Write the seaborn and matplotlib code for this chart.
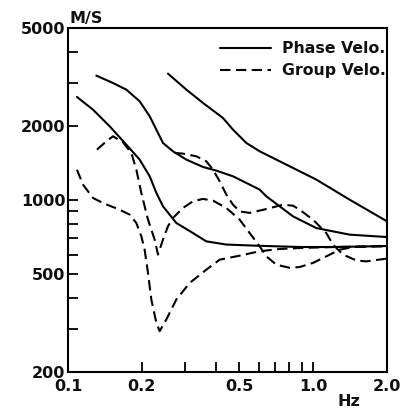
import numpy as np
import pandas as pd
import matplotlib
matplotlib.use("Agg")
import matplotlib.pyplot as plt
from matplotlib.lines import Line2D
import seaborn as sns

# ---- data (frequency Hz, velocity m/s) ----
phase1_f = [0.1088, 0.1265, 0.1479, 0.1729, 0.196, 0.2154, 0.2293, 0.244, 0.2766, 0.3234, 0.3666, 0.4423, 0.5863, 0.8806, 1.204, 2.0]
phase1_v = [2622, 2328, 1992, 1679, 1459, 1248, 1068, 943, 806, 734, 679, 659, 652, 644, 644, 650]

phase2_f = [0.1305, 0.1526, 0.1729, 0.196, 0.2154, 0.2293, 0.244, 0.268, 0.3038, 0.3553, 0.4027, 0.4709, 0.5507, 0.6049, 0.644, 0.8272, 1.03, 1.408, 2.0]
phase2_v = [3201, 2988, 2809, 2518, 2188, 1931, 1705, 1577, 1459, 1362, 1316, 1248, 1155, 1102, 1035, 858, 769, 723, 707]

phase3_f = [0.2557, 0.3038, 0.3553, 0.4286, 0.4709, 0.5337, 0.6049, 0.753, 1.03, 1.408, 2.0]
phase3_v = [3262, 2809, 2479, 2154, 1931, 1705, 1577, 1414, 1210, 1003, 819]

group1_f = [0.1088, 0.1151, 0.1265, 0.1389, 0.1624, 0.1785, 0.19, 0.1991, 0.2054, 0.212, 0.2187, 0.2293, 0.2365, 0.2518, 0.2766, 0.3135, 0.3666, 0.4155, 0.5013, 0.6049, 0.7298, 0.8806, 1.204, 2.0]
group1_v = [1328, 1155, 1019, 972, 913, 872, 806, 712, 628, 505, 394, 317, 293, 327, 394, 460, 521, 572, 594, 619, 632, 638, 644, 648]

group2_f = [0.2723, 0.2944, 0.3337, 0.3666, 0.3903, 0.4155, 0.4423, 0.4709, 0.5013, 0.5507, 0.644, 0.753, 0.8272, 0.8806, 0.998, 1.131, 1.204, 1.323, 1.499, 1.647, 2.0]
group2_v = [1553, 1543, 1505, 1436, 1328, 1191, 1052, 957, 899, 886, 919, 957, 948, 913, 832, 734, 659, 600, 568, 563, 578]

group3_f = [0.1313, 0.1434, 0.1526, 0.1676, 0.1813, 0.19, 0.1991, 0.212, 0.2257, 0.2328, 0.244, 0.2557, 0.268, 0.2944, 0.3234, 0.3553, 0.3903, 0.4423, 0.5013, 0.5507, 0.6049, 0.644, 0.7073, 0.8017, 0.8806, 0.998, 1.131, 1.282, 1.453, 2.0]
group3_v = [1602, 1732, 1815, 1715, 1553, 1328, 1068, 832, 690, 600, 690, 782, 845, 928, 988, 1010, 994, 928, 832, 734, 648, 590, 546, 530, 534, 555, 590, 628, 644, 652]

x_ticks = [0.1, 0.2, 0.5, 1.0, 2.0]
x_ticklabels = ["0.1", "0.2", "0.5", "1.0", "2.0"]
x_minor = [0.3, 0.4, 0.6, 0.7, 0.8, 0.9]
y_ticks = [200, 500, 1000, 2000, 5000]
y_ticklabels = ["200", "500", "1000", "2000", "5000"]
y_minor = [300, 400, 600, 700, 800, 900, 3000, 4000]

legend_labels = ["Phase Velo.", "Group Velo."]

# ---- plot ----
sns.set_theme(style="white")
plt.rcParams["font.family"] = ["DejaVu Sans"]

fig = plt.figure(figsize=(4.03, 4.12), dpi=100)
ax = fig.add_axes([0.1687, 0.0971, 0.7916, 0.8350])

lw = 1.5
dash = (5.0, 2.6)
curves = [
    (phase1_f, phase1_v, "solid"),
    (phase2_f, phase2_v, "solid"),
    (phase3_f, phase3_v, "solid"),
    (group1_f, group1_v, "dash"),
    (group2_f, group2_v, "dash"),
    (group3_f, group3_v, "dash"),
]
for f, v, st in curves:
    df = pd.DataFrame({"f": f, "v": v})
    sns.lineplot(data=df, x="f", y="v", ax=ax, sort=False, estimator=None,
                 color="black", linewidth=lw)
    if st == "dash":
        ax.lines[-1].set_dashes(dash)

ax.set_xscale("log")
ax.set_yscale("log")
ax.set_xlim(0.1, 2.0)
ax.set_ylim(200, 5000)

ax.set_xticks(x_ticks)
ax.set_xticklabels(x_ticklabels)
ax.set_xticks(x_minor, minor=True)
ax.set_xticklabels([], minor=True)
ax.set_yticks(y_ticks)
ax.set_yticklabels(y_ticklabels)
ax.set_yticks(y_minor, minor=True)
ax.set_yticklabels([], minor=True)

ax.tick_params(axis="both", which="both", direction="in", length=7, width=1.3,
               color="black", left=True, bottom=True, right=False, top=False)
ax.tick_params(axis="x", which="major", pad=5, labelsize=11.5)
ax.tick_params(axis="y", which="major", pad=2, labelsize=11.5)
for lab in ax.get_xticklabels() + ax.get_yticklabels():
    lab.set_fontweight("bold")
    lab.set_color("#111111")

for sp in ax.spines.values():
    sp.set_visible(True)
    sp.set_color("black")
    sp.set_linewidth(1.5)

ax.set_xlabel("")
ax.set_ylabel("")
ax.grid(False)

ax.text(0.005, 1.005, "M/S", transform=ax.transAxes, ha="left", va="bottom",
        fontsize=11.5, fontweight="bold", color="#111111")
ax.text(0.88, -0.085, "Hz", transform=ax.transAxes, ha="center", va="center",
        fontsize=11.5, fontweight="bold", color="#111111")

handles = [Line2D([], [], color="black", linewidth=lw),
           Line2D([], [], color="black", linewidth=lw, linestyle=(0, dash))]
leg = ax.legend(handles, legend_labels, loc="upper right", bbox_to_anchor=(1.005, 0.97),
                frameon=False, handlelength=3.2, handletextpad=0.7,
                labelspacing=0.45, borderpad=0.2, borderaxespad=0.0,
                prop={"size": 11.3, "weight": "bold"})
for t in leg.get_texts():
    t.set_color("#111111")

fig.savefig("out.png", dpi=100)
